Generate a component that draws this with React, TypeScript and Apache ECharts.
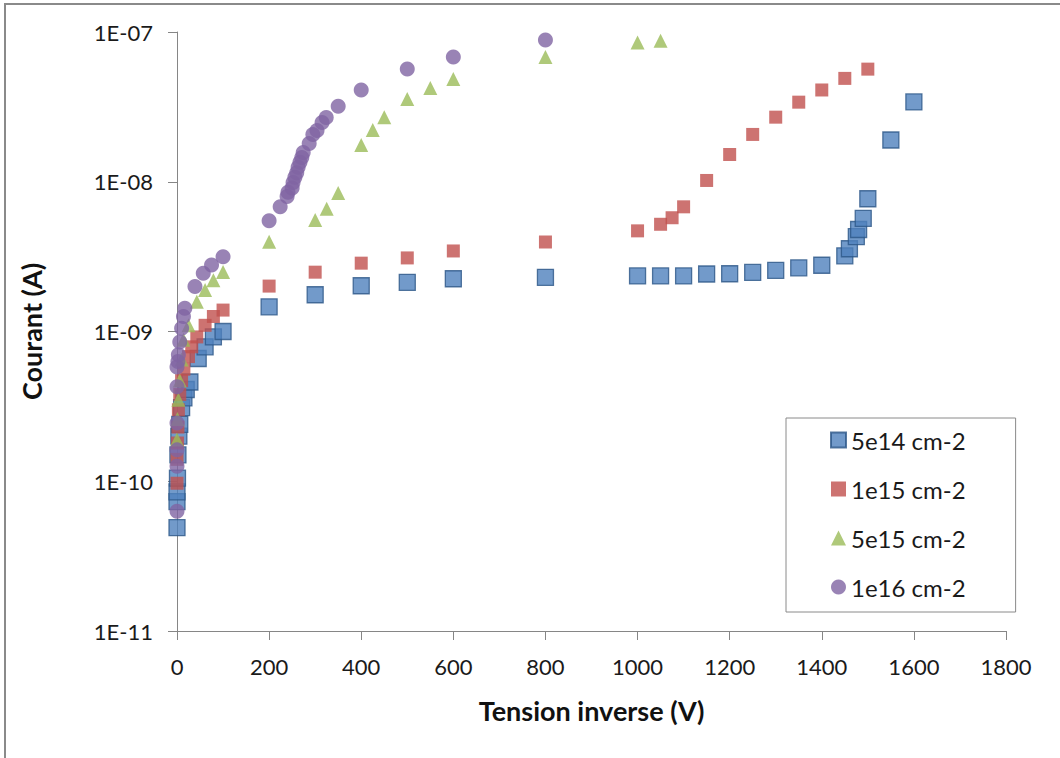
import React, { useEffect, useRef } from "react";
import * as echarts from "echarts";

const xTicks = [0, 200, 400, 600, 800, 1000, 1200, 1400, 1600, 1800];

const blueV = [0, 0, 0, 1, 2, 4, 6, 10, 15, 20, 28, 46, 61, 79, 100, 200, 300, 400, 500, 600, 800, 1000, 1050, 1100, 1150, 1200, 1250, 1300, 1350, 1400, 1450, 1460, 1475, 1480, 1490, 1500, 1550, 1600];
const blueI = [4.9e-11, 7.3e-11, 8.5e-11, 1.05e-10, 1.5e-10, 2.0e-10, 2.4e-10, 3.1e-10, 3.6e-10, 4.1e-10, 4.6e-10, 6.6e-10, 7.9e-10, 9.2e-10, 1.0e-9, 1.46e-9, 1.76e-9, 2.02e-9, 2.13e-9, 2.25e-9, 2.3e-9, 2.35e-9, 2.35e-9, 2.35e-9, 2.42e-9, 2.43e-9, 2.48e-9, 2.56e-9, 2.66e-9, 2.77e-9, 3.2e-9, 3.57e-9, 4.3e-9, 4.8e-9, 5.7e-9, 7.7e-9, 1.9e-8, 3.41e-8];

const redV = [0, 0, 1, 2, 3, 6, 10, 15, 25, 32, 43, 61, 79, 100, 200, 300, 400, 500, 600, 800, 1000, 1050, 1075, 1100, 1150, 1200, 1250, 1300, 1350, 1400, 1450, 1500];
const redI = [9.7e-11, 1.4e-10, 1.8e-10, 2.3e-10, 3.0e-10, 3.8e-10, 4.7e-10, 5.6e-10, 6.8e-10, 7.9e-10, 9.2e-10, 1.1e-9, 1.26e-9, 1.39e-9, 2.01e-9, 2.49e-9, 2.86e-9, 3.1e-9, 3.45e-9, 3.96e-9, 4.7e-9, 5.2e-9, 5.75e-9, 6.8e-9, 1.02e-8, 1.52e-8, 2.07e-8, 2.7e-8, 3.4e-8, 4.1e-8, 4.9e-8, 5.65e-8];

const greenV = [0, 1, 3, 6, 10, 14, 25, 43, 61, 79, 100, 200, 300, 325, 350, 400, 425, 450, 500, 550, 600, 800, 1000, 1050];
const greenI = [1.9e-10, 2.6e-10, 3.5e-10, 4.7e-10, 6.5e-10, 8.8e-10, 1.1e-9, 1.58e-9, 1.89e-9, 2.2e-9, 2.5e-9, 3.98e-9, 5.56e-9, 6.6e-9, 8.4e-9, 1.76e-8, 2.22e-8, 2.7e-8, 3.57e-8, 4.22e-8, 4.85e-8, 6.8e-8, 8.5e-8, 8.75e-8];

const purpleV = [0, 0, 0, 0, 0, 0, 2, 3, 6, 10, 14, 17, 39, 57, 75, 100, 200, 224, 239, 241, 250, 252, 256, 260, 263, 267, 271, 274, 287, 295, 304, 315, 324, 350, 400, 500, 600, 800];
const purpleI = [6.3e-11, 1.26e-10, 1.62e-10, 2.45e-10, 4.27e-10, 5.8e-10, 6.3e-10, 7e-10, 8.5e-10, 1.05e-9, 1.26e-9, 1.43e-9, 2.0e-9, 2.45e-9, 2.78e-9, 3.16e-9, 5.5e-9, 6.8e-9, 7.96e-9, 8.5e-9, 9.1e-9, 9.9e-9, 1.07e-8, 1.15e-8, 1.25e-8, 1.35e-8, 1.45e-8, 1.57e-8, 1.8e-8, 2.07e-8, 2.2e-8, 2.49e-8, 2.69e-8, 3.19e-8, 4.1e-8, 5.67e-8, 6.8e-8, 8.85e-8];

const seriesNames = ["5e14 cm-2", "1e15 cm-2", "5e15 cm-2", "1e16 cm-2"];

const zip = (xs: number[], ys: number[]) => xs.map((x, i) => [x, ys[i]]);

const FONT = "Lato, 'Open Sans', sans-serif";

export default function App() {
  const ref = useRef<HTMLDivElement>(null);
  useEffect(() => {
    if (!ref.current) return;
    const chart = echarts.init(ref.current, null, { renderer: "svg" });
    const axisColor = "#868686";
    chart.setOption({
      animation: false,
      backgroundColor: "#ffffff",
      textStyle: { fontFamily: FONT },
      graphic: [
        {
          type: "rect",
          shape: { x: 5, y: 4, width: 1200, height: 900 },
          style: { fill: "none", stroke: "#8a8a8a", lineWidth: 2 },
          silent: true,
        },
      ],
      grid: { left: 177, right: 54, top: 32, bottom: 127 },
      legend: {
        orient: "vertical",
        left: 786,
        top: 418,
        padding: [10, 50, 13, 44],
        itemGap: 25,
        itemWidth: 15,
        itemHeight: 15,
        borderColor: "#8a8a8a",
        borderWidth: 1,
        backgroundColor: "#ffffff",
        textStyle: { fontFamily: FONT, fontSize: 24, color: "#1a1a1a", lineHeight: 24 },
        data: seriesNames,
      },
      xAxis: {
        type: "value",
        min: 0,
        max: 1800,
        interval: 200,
        name: "Tension inverse (V)",
        nameLocation: "middle",
        nameGap: 66,
        nameTextStyle: { fontFamily: FONT, fontSize: 27, fontWeight: "bold", color: "#111" },
        axisLine: { show: true, lineStyle: { color: axisColor, width: 1 } },
        axisTick: { show: true, length: 9, lineStyle: { color: axisColor } },
        axisLabel: {
          margin: 24,
          fontFamily: FONT,
          fontSize: 22,
          color: "#1a1a1a",
          formatter: (v: number) => (xTicks.includes(v) ? String(v) : ""),
        },
        splitLine: { show: false },
      },
      yAxis: {
        type: "log",
        logBase: 10,
        min: 1e-11,
        max: 1e-7,
        name: "Courant (A)",
        nameLocation: "middle",
        nameGap: 132,
        nameRotate: 90,
        nameTextStyle: { fontFamily: FONT, fontSize: 27, fontWeight: "bold", color: "#111" },
        axisLine: { show: true, lineStyle: { color: axisColor, width: 1 } },
        axisTick: { show: true, length: 9, lineStyle: { color: axisColor } },
        axisLabel: {
          margin: 24,
          fontFamily: FONT,
          fontSize: 22,
          color: "#1a1a1a",
          formatter: (v: number) => {
            const e = Math.round(Math.log10(v));
            return "1E-" + String(-e).padStart(2, "0");
          },
        },
        splitLine: { show: false },
      },
      series: [
        {
          name: seriesNames[0],
          type: "scatter",
          symbol: "rect",
          symbolSize: 16,
          itemStyle: { color: "#4f81bd", borderColor: "#2c5687", borderWidth: 1.3 },
          data: zip(blueV, blueI),
        },
        {
          name: seriesNames[1],
          type: "scatter",
          symbol: "rect",
          symbolSize: 13,
          itemStyle: { color: "#c0504d" },
          data: zip(redV, redI),
        },
        {
          name: seriesNames[2],
          type: "scatter",
          symbol: "triangle",
          symbolSize: 14,
          itemStyle: { color: "#9bbb59" },
          data: zip(greenV, greenI),
        },
        {
          name: seriesNames[3],
          type: "scatter",
          symbol: "circle",
          symbolSize: 15,
          itemStyle: { color: "#8064a2" },
          data: zip(purpleV, purpleI),
        },
      ],
    });
    return () => chart.dispose();
  }, []);
  return (
    <div
      ref={ref}
      style={{ position: "absolute", left: 0, top: 0, width: 1060, height: 758 }}
    />
  );
}
